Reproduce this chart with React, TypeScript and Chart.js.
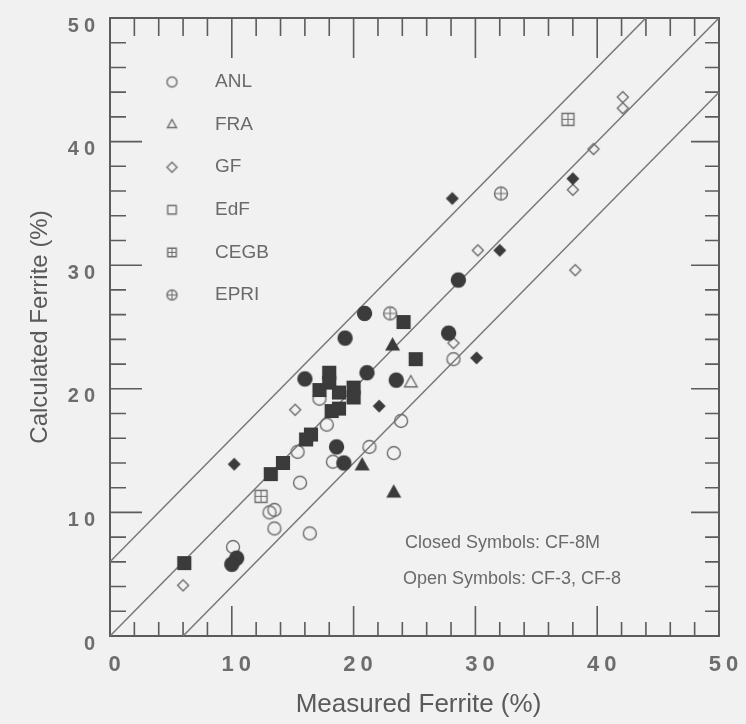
import React, { useEffect, useRef } from 'react';
import { Chart, registerables } from 'chart.js';

Chart.register(...registerables);

// ---------- data (measured %, calculated %) ----------
const anlOpen: [number, number][] = [
  [10.1, 7.2], [13.1, 10.0], [13.5, 10.2], [13.5, 8.7], [15.6, 12.4], [16.4, 8.3],
  [15.4, 14.9], [17.2, 19.2], [17.8, 17.1], [18.3, 14.1], [21.3, 15.3], [23.3, 14.8],
  [23.9, 17.4], [28.2, 22.4],
];
const anlClosed: [number, number][] = [
  [19.3, 24.1], [27.8, 24.5], [28.6, 28.8], [20.9, 26.1], [21.1, 21.3], [23.5, 20.7],
  [18.6, 15.3], [19.2, 14.0], [10.4, 6.3], [10.0, 5.8], [16.0, 20.8],
];
const fraOpen: [number, number][] = [[24.7, 20.5]];
const fraClosed: [number, number][] = [[23.2, 23.5], [20.7, 13.8], [23.3, 11.6]];
const gfOpen: [number, number][] = [
  [6.0, 4.1], [15.2, 18.3], [28.2, 23.7], [30.2, 31.2], [38.0, 36.1], [38.2, 29.6],
  [39.7, 39.4], [42.1, 43.6], [42.1, 42.7],
];
const gfClosed: [number, number][] = [
  [10.2, 13.9], [22.1, 18.6], [30.1, 22.5], [28.1, 35.4], [38.0, 37.0], [32.0, 31.2],
];
const edfOpen: [number, number][] = [];
const edfClosed: [number, number][] = [
  [6.1, 5.9], [13.2, 13.1], [14.2, 14.0], [16.5, 16.3], [16.1, 15.9], [18.0, 21.3],
  [18.0, 20.5], [17.2, 19.9], [18.8, 19.7], [20.0, 20.1], [20.0, 19.3], [18.2, 18.2],
  [18.8, 18.4], [25.1, 22.4], [24.1, 25.4],
];
const cegbOpen: [number, number][] = [[12.4, 11.3], [37.6, 41.8]];
const epriOpen: [number, number][] = [[32.1, 35.8], [23.0, 26.1]];

// reference lines (endpoints)
const upperLine: [number, number][] = [[0, 6], [44, 50]];
const parityLine: [number, number][] = [[0, 0], [50, 50]];
const lowerLine: [number, number][] = [[6, 0], [50, 44]];

const AXIS_MIN = 0;
const AXIS_MAX = 50;
const MAJOR_STEP = 10;
const MINOR_STEP = 2;

const LEGEND_LABELS = ['ANL', 'FRA', 'GF', 'EdF', 'CEGB', 'EPRI'];
const NOTE_CLOSED = 'Closed Symbols: CF-8M';
const NOTE_OPEN = 'Open Symbols: CF-3, CF-8';
const X_TITLE = 'Measured Ferrite (%)';
const Y_TITLE = 'Calculated Ferrite (%)';

// ---------- styles ----------
const BG = '#f1f1f1';
const INK = '#5c5c5c';
const STROKE = '#6e6e6e';
const FILL = '#3b3b3b';
const TEXT = '#6a6a6a';

type Kind = 'circle' | 'triangle' | 'diamond' | 'square' | 'squareCross' | 'circleCross';

function makeMarker(kind: Kind, r: number, filled: boolean): HTMLCanvasElement {
  const s = Math.ceil(r * 2 + 5);
  const c = document.createElement('canvas');
  c.width = s;
  c.height = s;
  const g = c.getContext('2d')!;
  g.translate(s / 2, s / 2);
  g.lineWidth = 1.4;
  g.strokeStyle = filled ? FILL : STROKE;
  g.fillStyle = FILL;
  g.beginPath();
  const h = r * 0.85;
  if (kind === 'circle' || kind === 'circleCross') {
    g.arc(0, 0, r, 0, Math.PI * 2);
  } else if (kind === 'triangle') {
    g.moveTo(0, -r);
    g.lineTo(r * 0.9, r * 0.6);
    g.lineTo(-r * 0.9, r * 0.6);
    g.closePath();
  } else if (kind === 'diamond') {
    g.moveTo(0, -r);
    g.lineTo(r, 0);
    g.lineTo(0, r);
    g.lineTo(-r, 0);
    g.closePath();
  } else {
    g.rect(-h, -h, h * 2, h * 2);
  }
  if (filled) g.fill();
  g.stroke();
  if (kind === 'squareCross' || kind === 'circleCross') {
    const e = kind === 'squareCross' ? h : r;
    g.beginPath();
    g.moveTo(-e, 0);
    g.lineTo(e, 0);
    g.moveTo(0, -e);
    g.lineTo(0, e);
    g.lineWidth = 1.1;
    g.strokeStyle = filled ? '#999' : STROKE;
    g.stroke();
  }
  return c;
}

interface SeriesDef {
  name: string;
  pts: [number, number][];
  kind: Kind;
  r: number;
  filled: boolean;
}

const SERIES: SeriesDef[] = [
  { name: 'ANL CF-8M', pts: anlClosed, kind: 'circle', r: 7, filled: true },
  { name: 'FRA CF-8M', pts: fraClosed, kind: 'triangle', r: 7, filled: true },
  { name: 'GF CF-8M', pts: gfClosed, kind: 'diamond', r: 5.5, filled: true },
  { name: 'EdF CF-8M', pts: edfClosed, kind: 'square', r: 7.5, filled: true },
  { name: 'ANL', pts: anlOpen, kind: 'circle', r: 6.5, filled: false },
  { name: 'FRA', pts: fraOpen, kind: 'triangle', r: 7, filled: false },
  { name: 'GF', pts: gfOpen, kind: 'diamond', r: 5.5, filled: false },
  { name: 'EdF', pts: edfOpen, kind: 'square', r: 7, filled: false },
  { name: 'CEGB', pts: cegbOpen, kind: 'squareCross', r: 7, filled: false },
  { name: 'EPRI', pts: epriOpen, kind: 'circleCross', r: 6.5, filled: false },
];

const LEGEND_KINDS: Kind[] = ['circle', 'triangle', 'diamond', 'square', 'squareCross', 'circleCross'];

export default function App() {
  const ref = useRef<HTMLCanvasElement>(null);

  useEffect(() => {
    const canvas = ref.current;
    if (!canvas) return;

    const legendMarkers = LEGEND_KINDS.map((k) => makeMarker(k, 5, false));

    const decor = {
      id: 'decor',
      beforeDraw(chart: any) {
        const ctx = chart.ctx;
        ctx.save();
        ctx.fillStyle = BG;
        ctx.fillRect(0, 0, chart.width, chart.height);
        ctx.restore();
        ctx.letterSpacing = '5px';
      },
      beforeDatasetsDraw(chart: any) {
        const ctx = chart.ctx;
        ctx.letterSpacing = '0px';
        const { left, right, top, bottom } = chart.chartArea;
        const xs = chart.scales.x;
        const ys = chart.scales.y;
        ctx.save();
        ctx.strokeStyle = INK;
        ctx.lineWidth = 2;
        ctx.strokeRect(left, top, right - left, bottom - top);
        ctx.lineWidth = 1.6;
        ctx.beginPath();
        for (let v = AXIS_MIN + MINOR_STEP; v < AXIS_MAX; v += MINOR_STEP) {
          const major = v % MAJOR_STEP === 0;
          const px = xs.getPixelForValue(v);
          const py = ys.getPixelForValue(v);
          // bottom
          ctx.moveTo(px, bottom);
          ctx.lineTo(px, bottom - (major ? 30 : 14));
          // top
          ctx.moveTo(px, top);
          ctx.lineTo(px, top + (major ? 40 : 18));
          // left
          ctx.moveTo(left, py);
          ctx.lineTo(left + (major ? 32 : 16), py);
          // right
          ctx.moveTo(right, py);
          ctx.lineTo(right - (major ? 28 : 14), py);
        }
        ctx.stroke();
        ctx.restore();
      },
      afterDraw(chart: any) {
        const ctx = chart.ctx;
        const { left, right, top, bottom } = chart.chartArea;
        ctx.save();
        ctx.letterSpacing = '0px';
        // legend
        ctx.font = '19px "Liberation Sans", Arial, sans-serif';
        ctx.fillStyle = TEXT;
        ctx.textBaseline = 'middle';
        ctx.textAlign = 'left';
        LEGEND_LABELS.forEach((lab, i) => {
          const y = 82 + i * 42.6;
          const m = legendMarkers[i];
          ctx.drawImage(m, 172 - m.width / 2, y - m.height / 2);
          ctx.fillText(lab, 215, y);
        });
        // notes
        ctx.font = '18px "Liberation Sans", Arial, sans-serif';
        ctx.fillText(NOTE_CLOSED, 405, 543);
        ctx.fillText(NOTE_OPEN, 403, 579);
        // axis titles
        ctx.fillStyle = '#5a5a5a';
        ctx.textAlign = 'center';
        ctx.font = '26px "Liberation Sans", Arial, sans-serif';
        ctx.fillText(X_TITLE, (left + right) / 2 + 4, 705);
        ctx.translate(40, (top + bottom) / 2);
        ctx.rotate(-Math.PI / 2);
        ctx.font = '24px "Liberation Sans", Arial, sans-serif';
        ctx.fillText(Y_TITLE, 0, 0);
        ctx.restore();
      },
    };

    const lineDs = (pts: [number, number][]) => ({
      type: 'line' as const,
      data: pts.map(([x, y]) => ({ x, y })),
      borderColor: '#777',
      borderWidth: 1.5,
      pointRadius: 0,
      showLine: true,
      fill: false,
      order: 10,
    });

    const datasets: any[] = [
      ...SERIES.map((s) => ({
        type: 'scatter' as const,
        label: s.name,
        data: s.pts.map(([x, y]) => ({ x, y })),
        pointStyle: makeMarker(s.kind, s.r, s.filled),
        pointRadius: s.r,
        order: s.filled ? 0 : 1,
      })),
      lineDs(upperLine),
      lineDs(parityLine),
      lineDs(lowerLine),
    ];

    const tickFont = (size: number) => ({
      family: '"Liberation Sans", Arial, sans-serif',
      size,
      weight: 'bold' as const,
    });

    const chart = new Chart(canvas, {
      type: 'scatter',
      data: { datasets },
      options: {
        animation: false,
        responsive: false,
        devicePixelRatio: 1,
        layout: { padding: { top: 18, right: 27, left: 0, bottom: 0 } },
        plugins: {
          legend: { display: false },
          tooltip: { enabled: false },
        },
        scales: {
          x: {
            type: 'linear',
            min: AXIS_MIN,
            max: AXIS_MAX,
            grid: { display: false, drawTicks: false },
            border: { display: false },
            ticks: {
              stepSize: MAJOR_STEP,
              padding: 16,
              labelOffset: 7,
              color: '#6d6d6d',
              font: tickFont(22),
            },
            afterFit: (s: any) => {
              s.height = 88;
              s.paddingLeft = 0;
              s.paddingRight = 0;
            },
          },
          y: {
            type: 'linear',
            min: AXIS_MIN,
            max: AXIS_MAX,
            grid: { display: false, drawTicks: false },
            border: { display: false },
            ticks: {
              stepSize: MAJOR_STEP,
              padding: 10,
              labelOffset: 8,
              color: '#6d6d6d',
              font: tickFont(20),
            },
            afterFit: (s: any) => {
              s.width = 110;
              s.paddingTop = 0;
              s.paddingBottom = 0;
            },
          },
        },
      },
      plugins: [decor],
    });

    return () => chart.destroy();
  }, []);

  return (
    <div style={{ position: 'fixed', left: 0, top: 0, width: 746, height: 724, background: BG }}>
      <canvas ref={ref} width={746} height={724} style={{ display: 'block', width: 746, height: 724 }} />
    </div>
  );
}
